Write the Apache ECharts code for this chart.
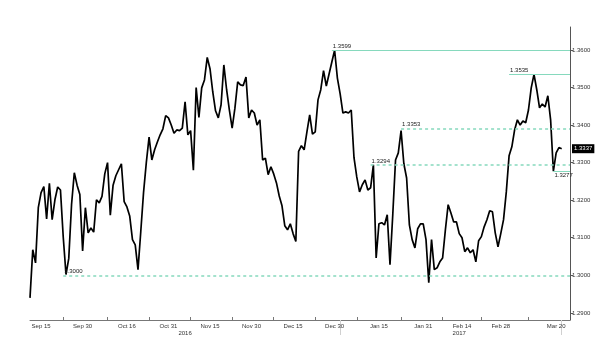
<!DOCTYPE html>
<html><head><meta charset="utf-8">
<script src="https://cdn.jsdelivr.net/npm/echarts@6/dist/echarts.min.js"></script>
<style>html,body{margin:0;padding:0;background:#fff}#c{width:600px;height:356px}</style>
</head><body><div id="c"></div>
<script>
// daily closes-ish, starting 2016-09-11
const startDate = '2016-09-11';
const dayCount = 196; // through 2017-03-25
const values = [
1.2940,1.3068,1.3033,1.3180,1.3220,1.3236,1.3150,1.3245,1.3148,1.3201,
1.3235,1.3227,1.3102,1.3002,1.3045,1.3188,1.3273,1.3240,1.3215,1.3065,
1.3180,1.3113,1.3126,1.3115,1.3201,1.3193,1.3210,1.3270,1.3300,1.3160,
1.3240,1.3265,1.3281,1.3297,1.3196,1.3182,1.3158,1.3095,1.3081,1.3015,
1.3116,1.3220,1.3300,1.3368,1.3307,1.3334,1.3355,1.3374,1.3390,1.3425,
1.3419,1.3400,1.3378,1.3387,1.3385,1.3392,1.3462,1.3374,1.3385,1.3280,
1.3500,1.3420,1.3499,1.3520,1.3580,1.3550,1.3488,1.3438,1.3419,1.3454,
1.3560,1.3494,1.3440,1.3392,1.3445,1.3515,1.3507,1.3505,1.3528,1.3419,
1.3440,1.3432,1.3400,1.3414,1.3307,1.3312,1.3268,1.3289,1.3270,1.3246,
1.3211,1.3185,1.3132,1.3121,1.3137,1.3111,1.3090,1.3330,1.3345,1.3334,
1.3382,1.3427,1.3376,1.3382,1.3467,1.3494,1.3545,1.3504,1.3536,1.3568,
1.3599,1.3525,1.3483,1.3432,1.3435,1.3432,1.3440,1.3313,1.3262,1.3222,
1.3241,1.3254,1.3227,1.3233,1.3294,1.3046,1.3137,1.3140,1.3134,1.3161,
1.3028,1.3161,1.3307,1.3326,1.3385,1.3297,1.3259,1.3134,1.3095,1.3073,
1.3124,1.3137,1.3137,1.3095,1.2980,1.3095,1.3015,1.3020,1.3036,1.3046,
1.3121,1.3188,1.3166,1.3142,1.3142,1.3111,1.3100,1.3063,1.3073,1.3060,
1.3068,1.3036,1.3092,1.3103,1.3129,1.3148,1.3172,1.3169,1.3113,1.3076,
1.3111,1.3148,1.3222,1.3318,1.3342,1.3387,1.3414,1.3400,1.3411,1.3406,
1.3440,1.3499,1.3535,1.3494,1.3446,1.3456,1.3448,1.3478,1.3414,1.3277,
1.3326,1.3340,1.3337
];
const labelDates = ['2016-09-15','2016-09-30','2016-10-16','2016-10-31','2016-11-15','2016-11-30','2016-12-15','2016-12-30','2017-01-15','2017-01-31','2017-02-14','2017-02-28','2017-03-20'];
const minorTickDates = ['2016-09-23','2016-10-09','2016-10-24','2016-11-08','2016-11-23','2016-12-08','2016-12-23','2017-01-07','2017-01-23','2017-02-07','2017-02-21','2017-03-10'];
const yearDates = ['2016-11-06','2017-02-13'];
const yearTexts = ['2016','2017'];
const yearSepDates = ['2017-01-01','2017-03-22'];
const yTicks = [1.29,1.30,1.31,1.32,1.33,1.34,1.35,1.36];
const monthNames = ['Jan','Feb','Mar','Apr','May','Jun','Jul','Aug','Sep','Oct','Nov','Dec'];
// annotated levels: [start date, level, label, style, label side]
const levels = [
  ['2016-12-29', 1.3599, '1.3599', 'solid', 'top'],
  ['2017-03-03', 1.3535, '1.3535', 'solid', 'top'],
  ['2017-01-23', 1.3390, '1.3353', 'dashed', 'top'],
  ['2017-01-12', 1.3294, '1.3294', 'dashed', 'top'],
  ['2016-09-23', 1.3000, '1.3000', 'dashed', 'top'],
  ['2017-03-19', 1.3277, '1.3277', 'solid', 'bottom']
];
const lastPrice = 1.3337;

const cats = [];
const t0 = Date.parse(startDate + 'T00:00:00Z');
for (let i = 0; i < dayCount; i++) cats.push(new Date(t0 + i * 86400000).toISOString().slice(0, 10));
const labelIdx = labelDates.map(d => cats.indexOf(d));
const tickIdx = minorTickDates.map(d => cats.indexOf(d));
const yearIdx = yearDates.map(d => cats.indexOf(d));
const sepIdx = yearSepDates.map(d => cats.indexOf(d));
const fmtDate = d => monthNames[+d.slice(5, 7) - 1] + ' ' + (+d.slice(8, 10));

const teal = '#86d9bd';
const font = 'Liberation Sans';
const lineData = levels.map(l => [
  {coord: [l[0], l[1]], lineStyle: {type: l[3] === 'solid' ? 'solid' : [3, 3], width: l[3] === 'solid' ? 1 : 1.5, color: teal},
   label: {show: true, formatter: l[2], position: l[4] === 'top' ? 'insideStartTop' : 'insideStartBottom', distance: 1,
     color: '#222', fontSize: 6, fontFamily: font}},
  {coord: [cats[cats.length - 1], l[1]]}
]);

const chart = echarts.init(document.getElementById('c'), null, {renderer: 'canvas'});
chart.setOption({
  animation: false,
  backgroundColor: '#fff',
  grid: {left: 30, right: 30, top: 27, bottom: 36},
  xAxis: [{
    type: 'category', data: cats, boundaryGap: false,
    axisLine: {lineStyle: {color: '#777', width: 1}},
    axisTick: {show: true, inside: true, length: 3, interval: (i) => tickIdx.includes(i), lineStyle: {color: '#777'}},
    axisLabel: {interval: (i) => labelIdx.includes(i), formatter: v => fmtDate(v), fontSize: 6, fontFamily: font, color: '#333', margin: 3},
    splitLine: {show: false}
  }, {
    type: 'category', data: cats, boundaryGap: false, position: 'bottom',
    axisLine: {show: false},
    axisTick: {show: true, inside: false, length: 15, interval: (i) => sepIdx.includes(i), lineStyle: {color: '#d0d0d0'}},
    axisLabel: {interval: (i) => yearIdx.includes(i), formatter: (v) => yearTexts[yearDates.indexOf(v)] || '', fontSize: 6, fontFamily: font, color: '#333', margin: 10},
    splitLine: {show: false}
  }],
  yAxis: {
    type: 'value', position: 'right', min: 1.2881, max: 1.3661, scale: true,
    axisLine: {show: true, lineStyle: {color: '#555', width: 1}},
    axisTick: {show: true, length: 3, customValues: yTicks, lineStyle: {color: '#555'}},
    axisLabel: {customValues: yTicks, formatter: v => v.toFixed(4), fontSize: 6, fontFamily: font, color: '#333', margin: 2},
    splitLine: {show: false}
  },
  series: [{
    type: 'line', data: values, xAxisIndex: 0, showSymbol: false, symbol: 'none',
    lineStyle: {color: '#000', width: 1.7}, z: 3,
    markLine: {silent: true, symbol: ['none', 'none'], animation: false, data: lineData},
    markPoint: {silent: true, animation: false, data: [{
      coord: [cats[cats.length - 1], lastPrice], symbol: 'rect', symbolSize: 0,
      label: {show: true, position: 'right', distance: 2, formatter: lastPrice.toFixed(4), backgroundColor: '#000', color: '#fff',
        padding: [2, 2, 1, 2], fontSize: 6, fontFamily: font}
    }]}
  }]
});
</script></body></html>
